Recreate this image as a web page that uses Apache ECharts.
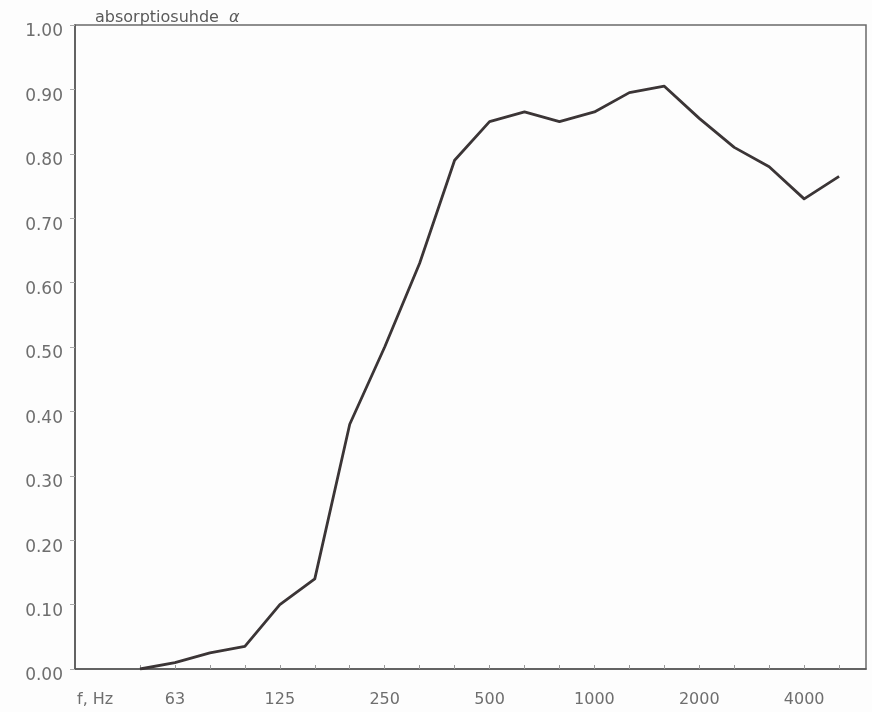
<!DOCTYPE html>
<html>
<head>
<meta charset="utf-8">
<script src="https://cdn.jsdelivr.net/npm/echarts@6/dist/echarts.min.js"></script>
<style>
  html, body { margin: 0; padding: 0; background: #fdfdfd; }
  #chart { width: 872px; height: 712px; }
</style>
</head>
<body>
<div id="chart"></div>
<script>
// 1/3-octave band centre frequencies (Hz)
var bands = ["50","63","80","100","125","160","200","250","315","400","500","630","800","1000","1250","1600","2000","2500","3150","4000","5000"];
// absorption coefficient alpha per band
var alphaValues = [0.00, 0.01, 0.025, 0.035, 0.10, 0.14, 0.38, 0.50, 0.63, 0.79, 0.85, 0.865, 0.85, 0.865, 0.895, 0.905, 0.855, 0.81, 0.78, 0.73, 0.765];
// octave labels shown under the axis
var xTickLabels = ["63","125","250","500","1000","2000","4000"];
var yTickLabels = ["0.00","0.10","0.20","0.30","0.40","0.50","0.60","0.70","0.80","0.90","1.00"];
var titleText = "absorptiosuhde";
var xName = "f, Hz";

var bandIdx = bands.map(function (b, i) { return i; });
var labelIdx = bands.map(function (b, i) { return i; }).filter(function (i) { return xTickLabels.indexOf(bands[i]) >= 0; });
var seriesData = bands.map(function (b, i) { return [i, alphaValues[i]]; });

var chart = echarts.init(document.getElementById('chart'), null, { renderer: 'canvas' });
var textColor = '#6e6e6e';
var fontFam = '"DejaVu Sans", sans-serif';

chart.setOption({
  backgroundColor: '#fdfdfd',
  animation: false,
  title: {
    text: titleText + '  {a|α}',
    left: 90,
    top: 5,
    textStyle: {
      fontFamily: fontFam,
      fontSize: 16,
      fontWeight: 'normal',
      color: '#5a5a5a',
      rich: { a: { fontFamily: fontFam, fontSize: 16, fontStyle: 'italic', color: '#5a5a5a' } }
    }
  },
  graphic: [{
    type: 'text',
    left: 77,
    top: 692,
    style: { text: xName, fontFamily: fontFam, fontSize: 16, fill: textColor }
  }],
  grid: {
    left: 75, right: 6, top: 25, bottom: 43,
    show: true,
    borderColor: '#6a6a6a',
    borderWidth: 1.5,
    backgroundColor: 'transparent'
  },
  xAxis: {
    type: 'value',
    min: -1.86,
    max: 20.77,
    splitLine: { show: false },
    axisLine: { show: true, onZero: false, lineStyle: { color: '#555', width: 1.5 } },
    axisTick: { show: true, customValues: bandIdx, inside: true, length: 4, lineStyle: { color: '#999', width: 1 } },
    axisLabel: {
      customValues: labelIdx,
      margin: 23,
      fontFamily: fontFam,
      fontSize: 16,
      color: textColor,
      formatter: function (v) { return bands[Math.round(v)]; }
    }
  },
  yAxis: {
    type: 'value',
    min: 0,
    max: 1,
    interval: 0.1,
    splitLine: { show: false },
    axisLine: { show: true, onZero: false, lineStyle: { color: '#555', width: 1.5 } },
    axisTick: { show: true, length: 5, lineStyle: { color: '#aaa', width: 1 } },
    axisLabel: {
      margin: 12,
      fontFamily: fontFam,
      fontSize: 17,
      color: textColor,
      formatter: function (v) { return '{v|' + yTickLabels[Math.round(v * 10)] + '}'; },
      rich: { v: { fontFamily: fontFam, fontSize: 17, color: textColor, padding: [14, 0, 0, 0] } }
    }
  },
  series: [{
    type: 'line',
    data: seriesData,
    showSymbol: false,
    symbol: 'none',
    lineStyle: { color: '#3b3536', width: 2.8, join: 'round' }
  }]
});
</script>
</body>
</html>
